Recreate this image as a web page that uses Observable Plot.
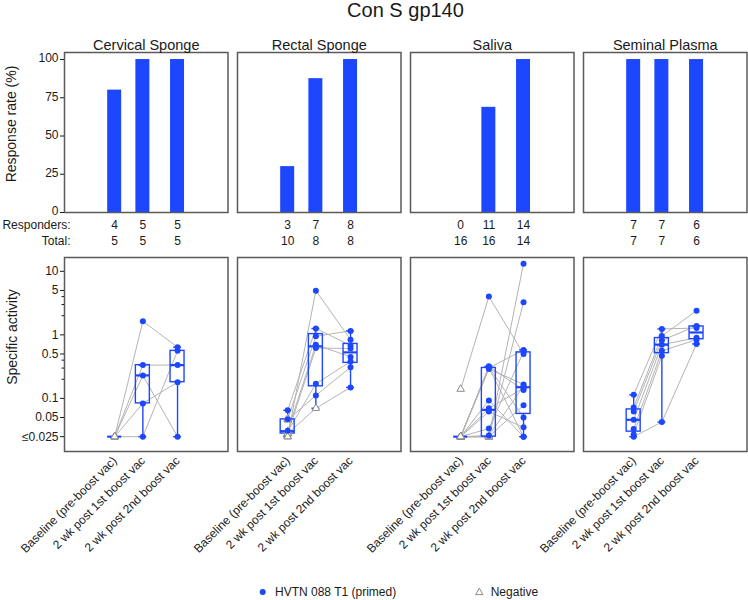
<!DOCTYPE html>
<html><head><meta charset="utf-8">
<script src="https://cdn.jsdelivr.net/npm/d3@7"></script>
<script src="https://cdn.jsdelivr.net/npm/@observablehq/plot@0.6"></script>
<style>
body{margin:0;background:#fff;}
#chart{position:relative;width:748px;height:600px;font-family:"Liberation Sans",Arial,sans-serif;color:#1a1a1a;overflow:hidden}
.abs{position:absolute;white-space:nowrap}
</style></head><body><div id="chart"></div>
<script>
// ---------- data ----------
const title = "Con S gp140";
const sites = ["Cervical Sponge", "Rectal Sponge", "Saliva", "Seminal Plasma"];
const timepoints = ["Baseline (pre-boost vac)", "2 wk post 1st boost vac", "2 wk post 2nd boost vac"];
const timeX = [0, 1, 2.23];
const responders = [[4, 5, 5], [3, 7, 8], [0, 11, 14], [7, 7, 6]];
const totals = [[5, 5, 5], [10, 8, 8], [16, 16, 14], [7, 7, 6]];
const rateTicks = [0, 25, 50, 75, 100];
const activityTicks = [10, 5, 1, 0.5, 0.1, 0.05, 0.025];
const activityTickLabels = ["10", "5", "1", "0.5", "0.1", "0.05", "≤0.025"];
const activityMinorTicks = [4, 3, 2, 0.4, 0.3, 0.2];
const legendLabels = ["HVTN 088 T1 (primed)", "Negative"];

// specific activity per subject: [baseline, 1st boost, 2nd boost] (null = no sample)
const cervicalActivity = [[0.025, 1.64, 0.64], [0.025, 0.334, 0.334], [0.025, 0.23, 0.025], [0.025, 0.0835, 0.18], [0.025, 0.025, 0.56]];
const cervicalNegative = [[1, 0, 0], [1, 0, 0], [1, 0, 0], [1, 0, 0], [1, 0, 0]];

const rectalActivity = [[0.025, 4.96, 0.84], [0.065, 1.26, 0.68], [0.047, 0.95, 1.155], [0.031, 0.70, 0.45], [0.028, 0.62, 0.61],
  [0.03, 0.17, 0.38], [0.046, 0.111, 0.31], [0.028, 0.07, 0.149], [0.048, null, null], [0.025, null, null]];
const rectalNegative = [[1, 0, 0], [0, 0, 0], [0, 0, 0], [0, 0, 0], [1, 0, 0],
  [1, 0, 0], [1, 0, 0], [1, 1, 0], [1, 0, 0], [1, 0, 0]];

const salivaActivity = [[0.14, 4.0, 0.5], [0.025, 0.32, 0.135], [0.025, 0.31, 0.05], [0.025, 0.305, 0.025], [0.025, 0.30, 0.58],
  [0.025, 0.29, 0.166], [0.025, 0.093, 0.025], [0.025, 0.07, 0.145], [0.025, 0.062, 0.035], [0.025, 0.0335, 0.54],
  [0.025, 0.026, 0.155], [0.025, 0.025, 13.2], [0.025, 0.025, 3.26], [0.025, 0.025, 0.078], [0.025, 0.025, null], [0.025, 0.025, null]];
const salivaNegative = [[1, 0, 0], [1, 0, 0], [1, 0, 0], [1, 0, 0], [1, 0, 0],
  [1, 0, 0], [1, 0, 0], [1, 0, 0], [1, 0, 0], [1, 0, 0],
  [1, 0, 0], [1, 1, 0], [1, 1, 0], [1, 1, 0], [1, 1, 0], [1, 1, 0]];

const seminalActivity = [[0.025, 0.0425, 0.72], [0.114, 1.24, 1.28], [0.072, 0.96, 2.4], [0.062, 0.82, 1.38], [0.046, 0.70, 0.90],
  [0.033, 0.56, 0.84], [0.027, 0.47, null]];
const seminalNegative = [[0, 0, 0], [0, 0, 0], [0, 0, 0], [0, 0, 0], [0, 0, 0], [0, 0, 0], [0, 0, 0]];

const activity = [cervicalActivity, rectalActivity, salivaActivity, seminalActivity];
const negative = [cervicalNegative, rectalNegative, salivaNegative, seminalNegative];

// ---------- styling / layout ----------
const blue = "#1d47ff";
const frameColor = "#5a5a5a";
const panelW = 163.5;
const panelLeft = i => 63.8 + i * 173.2;
const xDomain = [-1.78, 4.02];
const half = 0.248;
const font = {fontFamily: "'Liberation Sans', Arial, sans-serif", fontSize: "12px", color: "#1a1a1a", background: "transparent", overflow: "visible"};
const chart = document.getElementById("chart");

function place(el, left, top) {
  el.style.position = "absolute"; el.style.left = left + "px"; el.style.top = top + "px";
  chart.appendChild(el);
}
function addText(txt, css) {
  const d = document.createElement("div"); d.className = "abs"; d.textContent = txt;
  Object.assign(d.style, css); chart.appendChild(d); return d;
}

addText(title, {left: "64px", width: "683px", top: "0px", textAlign: "center", fontSize: "20px", lineHeight: "20px"});
addText("Response rate (%)", {left: "-89px", top: "116px", width: "200px", textAlign: "center", fontSize: "14px", lineHeight: "16px", transform: "rotate(-90deg)"});
addText("Specific activity", {left: "-88px", top: "329px", width: "200px", textAlign: "center", fontSize: "14px", lineHeight: "16px", transform: "rotate(-90deg)"});

// ---------- top row: response rate bars ----------
sites.forEach((site, i) => {
  const ml = i === 0 ? 64 : 0, mr = 2;
  const bars = timeX.map((x, j) => ({x, rate: responders[i][j] / totals[i][j] * 100, resp: responders[i][j], total: totals[i][j]}));
  const marks = [
    Plot.rect(bars, {x1: d => d.x - half, x2: d => d.x + half, y1: () => 0, y2: "rate", fill: blue}),
    Plot.frame({stroke: frameColor, strokeWidth: 1.5}),
    Plot.text([site], {text: d => d, frameAnchor: "top", dy: -13, fontSize: 14.5}),
    Plot.text(bars, {x: "x", text: d => String(d.resp), frameAnchor: "bottom", dy: 16.5, fontSize: 12}),
    Plot.text(bars, {x: "x", text: d => String(d.total), frameAnchor: "bottom", dy: 32.5, fontSize: 12})
  ];
  if (i === 0) {
    marks.push(Plot.axisY(rateTicks, {tickSize: 4, tickFormat: () => "", label: null}));
    marks.push(Plot.text(rateTicks, {y: d => d, text: d => String(d), frameAnchor: "left", textAnchor: "end", dx: -6, dy: -1, fontSize: 12}));
    marks.push(Plot.text(["Responders:"], {text: d => d, frameAnchor: "bottom-left", textAnchor: "end", dx: 6, dy: 16.5, fontSize: 12}));
    marks.push(Plot.text(["Total:"], {text: d => d, frameAnchor: "bottom-left", textAnchor: "end", dx: 6, dy: 32.5, fontSize: 12}));
  }
  const p = Plot.plot({
    width: ml + panelW + mr, height: 28 + 160 + 40,
    marginLeft: ml, marginRight: mr, marginTop: 28, marginBottom: 40,
    x: {domain: xDomain, axis: null},
    y: {domain: [0, 104.6], axis: null},
    style: font,
    marks
  });
  place(p, panelLeft(i) - ml, 24);
});

// ---------- bottom row: specific activity ----------
function longRows(values, neg) {
  const rows = [];
  values.forEach((s, si) => s.forEach((v, t) => {
    if (v != null) rows.push({subj: si, t, x: timeX[t], v, neg: !!neg[si][t]});
  }));
  return rows;
}
function boxStats(rows) {
  return timeX.map((x, t) => {
    const vs = rows.filter(r => r.t === t).map(r => r.v).sort(d3.ascending);
    const q1 = d3.quantileSorted(vs, 0.25), med = d3.quantileSorted(vs, 0.5), q3 = d3.quantileSorted(vs, 0.75);
    const iqr = q3 - q1;
    const lo = d3.min(vs.filter(v => v >= q1 - 1.5 * iqr));
    const hi = d3.max(vs.filter(v => v <= q3 + 1.5 * iqr));
    return {x, q1, med, q3, lo, hi};
  });
}

sites.forEach((site, i) => {
  const ml = i === 0 ? 64 : 0, mr = 2;
  const rows = longRows(activity[i], negative[i]);
  const boxes = boxStats(rows);
  const labels = timeX.map((x, j) => ({x, label: timepoints[j]}));
  const boxStroke = {stroke: blue, strokeWidth: 1.4};
  const marks = [
    Plot.line(rows, {x: "x", y: "v", z: "subj", stroke: "#b4b4b4", strokeWidth: 1}),
    Plot.ruleX(boxes, {x: "x", y1: "q3", y2: "hi", ...boxStroke}),
    Plot.ruleX(boxes, {x: "x", y1: "lo", y2: "q1", ...boxStroke}),
    Plot.ruleY(boxes, {y: "hi", x1: d => d.x - 0.14, x2: d => d.x + 0.14, ...boxStroke}),
    Plot.ruleY(boxes, {y: "lo", x1: d => d.x - 0.14, x2: d => d.x + 0.14, ...boxStroke}),
    Plot.rect(boxes, {x1: d => d.x - half, x2: d => d.x + half, y1: "q1", y2: "q3", fill: "none", ...boxStroke}),
    Plot.ruleY(boxes, {y: "med", x1: d => d.x - half, x2: d => d.x + half, stroke: blue, strokeWidth: 2.2}),
    Plot.dot(rows.filter(r => r.neg), {x: "x", y: "v", symbol: "triangle", r: 2.8, stroke: "#8a8a8a", fill: "white", strokeWidth: 1}),
    Plot.dot(rows.filter(r => !r.neg), {x: "x", y: "v", r: 3, fill: blue}),
    Plot.frame({stroke: frameColor, strokeWidth: 1.5}),
    Plot.text(labels, {x: "x", text: "label", frameAnchor: "bottom", rotate: -45, textAnchor: "end", dx: 3, dy: 10, fontSize: 12})
  ];
  if (i === 0) {
    marks.push(Plot.axisY(activityTicks, {tickFormat: () => "", tickSize: 4, label: null}));
    marks.push(Plot.axisY(activityMinorTicks, {tickFormat: () => "", tickSize: 2.5, label: null}));
    marks.push(Plot.text(activityTicks, {y: d => d, text: (d, k) => activityTickLabels[k], frameAnchor: "left", textAnchor: "end", dx: -6, fontSize: 12}));
  }
  const p = Plot.plot({
    width: ml + panelW + mr, height: 17 + 194 + 110,
    marginLeft: ml, marginRight: mr, marginTop: 17, marginBottom: 110,
    x: {domain: xDomain, axis: null},
    y: {type: "log", domain: [0.0146, 16.5], axis: null},
    style: font,
    marks
  });
  place(p, panelLeft(i) - ml, 240);
});

// ---------- legend ----------
const ns = "http://www.w3.org/2000/svg";
const lg = document.createElementNS(ns, "svg");
lg.setAttribute("width", 748); lg.setAttribute("height", 20);
lg.style.position = "absolute"; lg.style.left = "0px"; lg.style.top = "582px";
const c = document.createElementNS(ns, "circle");
c.setAttribute("cx", 262.7); c.setAttribute("cy", 10); c.setAttribute("r", 3); c.setAttribute("fill", blue);
lg.appendChild(c);
const tri = document.createElementNS(ns, "path");
tri.setAttribute("d", d3.symbol(d3.symbolTriangle, 24).call(null).toString());
tri.setAttribute("transform", "translate(479.3,10.5)");
tri.setAttribute("fill", "white"); tri.setAttribute("stroke", "#8a8a8a");
lg.appendChild(tri);
chart.appendChild(lg);
addText(legendLabels[0], {left: "275px", top: "583px", fontSize: "12px", lineHeight: "18px"});
addText(legendLabels[1], {left: "490.7px", top: "583px", fontSize: "12px", lineHeight: "18px"});
</script></body></html>
